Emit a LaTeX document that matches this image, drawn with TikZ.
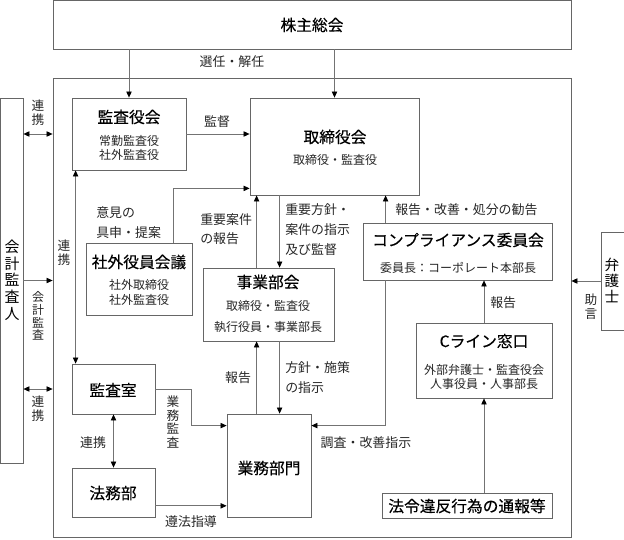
\documentclass[tikz,border=0pt]{standalone}
\usepackage{fontspec}
\setmainfont{Noto Sans CJK JP}
\newfontfamily\ttlfont[FakeBold=0.3]{Noto Sans CJK JP}
\usetikzlibrary{arrows.meta,fit,calc}
\begin{document}
\begin{tikzpicture}[x=0.75pt,y=-0.75pt,
  box/.style={draw=black!60, line width=0.6pt, inner sep=0pt},
  ttl/.style={font=\ttlfont\fontsize{11.8}{13}\selectfont, inner sep=0pt},
  sub/.style={font=\fontsize{9}{10.5}\selectfont, inner sep=0pt, text=black!85},
  lbl/.style={font=\fontsize{9.7}{11}\selectfont, inner sep=0pt, text=black!85},
  vt/.style={align=center, inner sep=0pt},
  ln/.style={draw=black!55, line width=0.55pt},
  tip/.tip={Triangle[length=4.5pt,width=4pt,color=black]},
  arr/.style={ln, -tip},
  darr/.style={ln, tip-tip},
]
\useasboundingbox (0,0) rectangle (624,539);

% boxes
\node[box, fit={(53,0.5) (571,49)}] (kabu) {};
\node[box, fit={(53,78) (571,537)}] (outer) {};
\node[box, fit={(0.5,98) (23,463)}] (kaikei) {};
\node[box, fit={(601,232) (626,330)}] (bengo) {};
\node[box, fit={(72,98) (186,170)}] (kansayaku) {};
\node[box, fit={(250,98) (419,195)}] (tori) {};
\node[box, fit={(86,243) (192,315)}] (shagai) {};
\node[box, fit={(203,268) (334,341)}] (jigyo) {};
\node[box, fit={(363,223) (552,280)}] (comp) {};
\node[box, fit={(416,323) (552,398)}] (cline) {};
\node[box, fit={(72,364) (155,414)}] (kansashitsu) {};
\node[box, fit={(72,468) (155,517)}] (houmu) {};
\node[box, fit={(227,414) (311,517)}] (gyomu) {};
\node[box, fit={(382,493) (552,518)}] (hourei) {};

% box texts
\node[ttl] (t-kabu) at (312,25) {株主総会};
\node[ttl] (t-kansayaku) at (129,117) {監査役会};
\node[sub] (s-kansayaku1) at (129,141) {常勤監査役};
\node[sub] (s-kansayaku2) at (129,155) {社外監査役};
\node[ttl] (t-tori) at (335,137) {取締役会};
\node[sub] (s-tori) at (335,160) {取締役・監査役};
\node[ttl] (t-shagai) at (139,262) {社外役員会議};
\node[sub] (s-shagai1) at (139,285) {社外取締役};
\node[sub] (s-shagai2) at (139,300) {社外監査役};
\node[ttl] (t-jigyo) at (268,282) {事業部会};
\node[sub] (s-jigyo1) at (268,306) {取締役・監査役};
\node[sub] (s-jigyo2) at (268,327) {執行役員・事業部長};
\node[ttl] (t-comp) at (458,240) {コンプライアンス委員会};
\node[sub] (s-comp) at (458,268) {委員長：コーポレート本部長};
\node[ttl] (t-cline) at (484,341) {Cライン窓口};
\node[sub] (s-cline1) at (484,370) {外部弁護士・監査役会};
\node[sub] (s-cline2) at (484,384) {人事役員・人事部長};
\node[ttl] (t-kansashitsu) at (113,390) {監査室};
\node[ttl] (t-houmu) at (113,493) {法務部};
\node[ttl] (t-gyomu) at (269,468) {業務部門};
\node[ttl] (t-hourei) at (467,506) {法令違反行為の通報等};
\node[vt, font=\fontsize{11.2}{12.5}\selectfont] (t-kaikei) at (12,280) {会\\計\\監\\査\\人};
\node[vt, font=\fontsize{11}{12}\selectfont] (t-bengo) at (612,280) {弁\\護\\士};

% labels
\node[lbl] (l-sennin) at (232,62) {選任・解任};
\node[lbl] (l-kantoku) at (217,122) {監督};
\node[lbl, anchor=west] (l-iken1) at (96,213) {意見の};
\node[lbl, anchor=west] (l-iken2) at (96,233) {具申・提案};
\node[lbl, anchor=west] (l-juyo1) at (200,220) {重要案件};
\node[lbl, anchor=west] (l-juyo2) at (200,239) {の報告};
\node[lbl, anchor=west] (l-hoshin1) at (285,210) {重要方針・};
\node[lbl, anchor=west] (l-hoshin2) at (285,230) {案件の指示};
\node[lbl, anchor=west] (l-hoshin3) at (285,250) {及び監督};
\node[lbl, anchor=west] (l-kankoku) at (395,210) {報告・改善・処分の勧告};
\node[lbl, anchor=west] (l-hokoku1) at (490,303) {報告};
\node[lbl] (l-hokoku2) at (238,378) {報告};
\node[lbl, anchor=west] (l-shisaku1) at (285,368) {方針・施策};
\node[lbl, anchor=west] (l-shisaku2) at (285,388) {の指示};
\node[lbl] (l-chosa) at (366,443) {調査・改善指示};
\node[lbl] (l-junpo) at (191,522) {遵法指導};
\node[lbl] (l-renkei4) at (93,443) {連携};
\node[vt, lbl, font=\fontsize{9.5}{10.5}\selectfont] (l-renkei1) at (38,113) {連\\携};
\node[vt, lbl, font=\fontsize{9.5}{10.5}\selectfont] (l-renkei2) at (64,253) {連\\携};
\node[vt, lbl, font=\fontsize{9.5}{10.5}\selectfont] (l-renkei3) at (38,409) {連\\携};
\node[vt, lbl, font=\fontsize{9}{9.6}\selectfont] (l-kaikeikansa) at (38,316) {会\\計\\監\\査};
\node[vt, lbl, font=\fontsize{9.5}{10.3}\selectfont] (l-gyomukansa) at (173,422) {業\\務\\監\\査};
\node[vt, lbl, font=\fontsize{9.5}{10.5}\selectfont] (l-jogen) at (591,307) {助\\言};

% helper coordinates
\coordinate (p76) at ([xshift=3pt]kansayaku.south west);
\coordinate (p173) at ([xshift=-14.25pt]shagai.north east);
\coordinate (p188) at ([yshift=5.25pt]tori.south west);
\coordinate (p257) at ([xshift=5.25pt]tori.south west);
\coordinate (p280) at ([xshift=22.5pt]tori.south west);
\coordinate (p386) at ([xshift=17.25pt]comp.north west);
\coordinate (p426e) at ([yshift=-9pt]gyomu.north east);
\coordinate (p426w) at ([yshift=-9pt]gyomu.north west);
\coordinate (p506) at ([yshift=-10pt]houmu.east);

% connectors
\draw[arr] (kansayaku.north |- kabu.south) -- (kansayaku.north);
\draw[arr] (tori.north |- kabu.south) -- (tori.north);
\draw[darr] (kaikei.east |- kansayaku.west) -- (outer.west |- kansayaku.west);
\draw[arr] (kaikei.east) -- (kaikei.east -| outer.west);
\draw[darr] (kaikei.east |- kansashitsu.west) -- (outer.west |- kansashitsu.west);
\draw[arr] (bengo.west) -- (bengo.west -| outer.east);
\draw[arr] (kansayaku.east) -- (kansayaku.east -| tori.west);
\draw[darr] (p76) -- (p76 |- kansashitsu.north);
\draw[arr] (p173) |- (p188);
\draw[arr] (p257 |- jigyo.north) -- (p257);
\draw[arr] (p280) -- (p280 |- jigyo.north);
\draw[arr] (p257 |- gyomu.north) -- (p257 |- jigyo.south);
\draw[arr] (p280 |- jigyo.south) -- (p280 |- gyomu.north);
\draw[arr] (p386) -- (p386 |- tori.south);
\draw[arr] (p386 |- comp.south) |- (p426e);
\draw[arr] (cline.north) -- (cline.north |- comp.south);
\draw[arr] (cline.south |- hourei.north) -- (cline.south);
\draw[arr] (kansashitsu.east) -- ++(36,0) |- (p426w);
\draw[darr] (kansashitsu.south) -- (houmu.north);
\draw[arr] (p506) -- (p506 -| gyomu.west);
\end{tikzpicture}
\end{document}
